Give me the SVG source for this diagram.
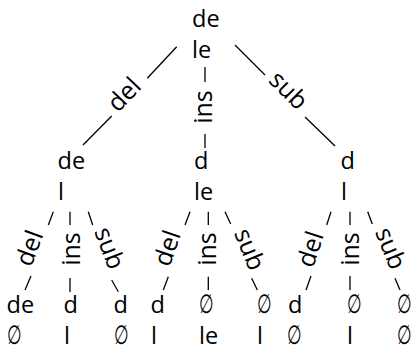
<svg xmlns="http://www.w3.org/2000/svg" width="411" height="346" viewBox="0 0 411 346">
  <style>
    .t { font-family: "Open Sans", "DejaVu Sans", sans-serif; font-size: 23.5px; fill: #000; }
    .lbl { font-family: "Open Sans", "DejaVu Sans", sans-serif; font-size: 25px; fill: #000; text-anchor: middle; }
    .e { font-family: "DejaVu Sans", sans-serif; font-size: 24px; fill: #000; }
    .edge line { stroke: #000; stroke-width: 1.3; stroke-linecap: butt; }
  </style>
  <rect width="411" height="346" fill="#fff"/>

  <!-- edges: each line is split around its operation label -->
  <g id="edges" class="edge">
    <line x1="176.7" y1="46.7" x2="147.3" y2="78.3"/>
    <line x1="111.7" y1="116" x2="83" y2="145"/>
    <line x1="205" y1="67" x2="205" y2="82"/>
    <line x1="205" y1="134" x2="205" y2="148"/>
    <line x1="235" y1="45" x2="265" y2="75"/>
    <line x1="305" y1="117" x2="335" y2="146"/>

    <line x1="53.3" y1="211.7" x2="48.3" y2="225"/>
    <line x1="31" y1="276" x2="25" y2="290"/>
    <line x1="70" y1="211.7" x2="70" y2="225"/>
    <line x1="70" y1="278" x2="70" y2="292"/>
    <line x1="88.3" y1="211.7" x2="92.7" y2="225"/>
    <line x1="111.7" y1="280" x2="118.3" y2="291.7"/>

    <line x1="190" y1="211.7" x2="185" y2="225"/>
    <line x1="168.3" y1="276.7" x2="163.3" y2="290"/>
    <line x1="208.3" y1="211.7" x2="208.3" y2="225"/>
    <line x1="208.3" y1="276.7" x2="208.3" y2="290"/>
    <line x1="225" y1="211.7" x2="230.7" y2="224"/>
    <line x1="251.7" y1="278.3" x2="257.3" y2="290"/>

    <line x1="331" y1="211.7" x2="326.7" y2="225"/>
    <line x1="311" y1="276" x2="306" y2="290"/>
    <line x1="350" y1="211.7" x2="350" y2="225"/>
    <line x1="350" y1="276" x2="350" y2="290"/>
    <line x1="367.7" y1="211.7" x2="372.3" y2="224"/>
    <line x1="395" y1="278.3" x2="400" y2="290"/>

    <text class="lbl" transform="translate(123.7,94.2) rotate(-46.4)" y="9">del</text>
    <text class="lbl" transform="translate(202.5,107) rotate(-90)" y="9">ins</text>
    <text class="lbl" transform="translate(289,90) rotate(45)" y="9">sub</text>

    <text class="lbl" transform="translate(29,248) rotate(-70)" y="9">del</text>
    <text class="lbl" transform="translate(71,249) rotate(-90)" y="9">ins</text>
    <text class="lbl" transform="translate(110,248) rotate(69)" y="9">sub</text>

    <text class="lbl" transform="translate(166.7,248) rotate(-71)" y="9">del</text>
    <text class="lbl" transform="translate(207,249) rotate(-90)" y="9">ins</text>
    <text class="lbl" transform="translate(250,249) rotate(68)" y="9">sub</text>

    <text class="lbl" transform="translate(310,249) rotate(-72)" y="9">del</text>
    <text class="lbl" transform="translate(350,249) rotate(-90)" y="9">ins</text>
    <text class="lbl" transform="translate(391,248) rotate(68)" y="9">sub</text>
  </g>

  <!-- root -->
  <g id="n-root">
    <text class="t" x="192" y="27">de</text>
    <text class="t" x="192" y="58">le</text>
  </g>

  <!-- second level -->
  <g id="n-del">
    <text class="t" x="57.5" y="169">de</text>
    <text class="t" x="58" y="200">l</text>
  </g>
  <g id="n-ins">
    <text class="t" x="194" y="169">d</text>
    <text class="t" x="194" y="200">le</text>
  </g>
  <g id="n-sub">
    <text class="t" x="340.5" y="169">d</text>
    <text class="t" x="341" y="200">l</text>
  </g>

  <!-- leaves -->
  <g id="n-del-del">
    <text class="t" x="6.5" y="313">de</text>
    <text class="e" transform="translate(7,344) scale(0.7,1.1)">∅</text>
  </g>
  <g id="n-del-ins">
    <text class="t" x="63.5" y="313">d</text>
    <text class="t" x="64" y="344">l</text>
  </g>
  <g id="n-del-sub">
    <text class="t" x="113.5" y="313">d</text>
    <text class="e" transform="translate(114,344) scale(0.7,1.1)">∅</text>
  </g>
  <g id="n-ins-del">
    <text class="t" x="150.5" y="313">d</text>
    <text class="t" x="151" y="344">l</text>
  </g>
  <g id="n-ins-ins">
    <text class="e" transform="translate(199,313) scale(0.7,1.1)">∅</text>
    <text class="t" x="199" y="344">le</text>
  </g>
  <g id="n-ins-sub">
    <text class="e" transform="translate(257,313) scale(0.7,1.1)">∅</text>
    <text class="t" x="257" y="344">l</text>
  </g>
  <g id="n-sub-del">
    <text class="t" x="288" y="313">d</text>
    <text class="e" transform="translate(287,344) scale(0.7,1.1)">∅</text>
  </g>
  <g id="n-sub-ins">
    <text class="e" transform="translate(347,313) scale(0.7,1.1)">∅</text>
    <text class="t" x="347" y="344">l</text>
  </g>
  <g id="n-sub-sub">
    <text class="e" transform="translate(397,313) scale(0.7,1.1)">∅</text>
    <text class="e" transform="translate(397,344) scale(0.7,1.1)">∅</text>
  </g>
</svg>
